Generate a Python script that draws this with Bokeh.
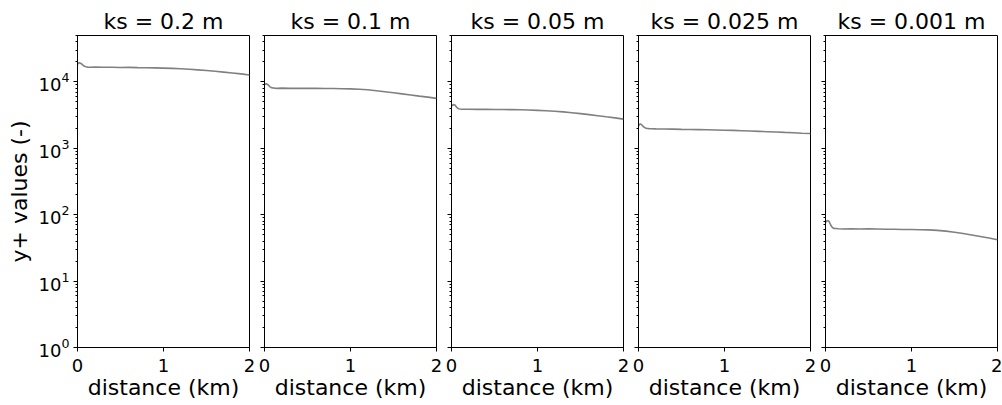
from bokeh.plotting import figure
from bokeh.layouts import row
from bokeh.models import Range1d, FixedTicker, CustomJSTickFormatter
from bokeh.embed import file_html
from bokeh.resources import INLINE

# ---- data ----
distance_km = [0.0, 0.02, 0.04, 0.06, 0.08, 0.10, 0.12, 0.15,
               0.2, 0.3, 0.4, 0.5, 0.6, 0.7, 0.8, 0.9, 1.0,
               1.1, 1.2, 1.3, 1.4, 1.5, 1.6, 1.7, 1.8, 1.9, 2.0]

titles = ["ks = 0.2 m", "ks = 0.1 m", "ks = 0.05 m", "ks = 0.025 m", "ks = 0.001 m"]

yplus_ks_0200 = [18500, 19500, 19000, 18000, 17200, 16900, 16700, 16600,
                 16700, 16600, 16650, 16500, 16550, 16400, 16350, 16250, 16150,
                 16000, 15800, 15500, 15200, 14850, 14450, 14050, 13650, 13200, 12700]
yplus_ks_0100 = [9000, 9400, 9100, 8500, 8200, 8100, 8050, 8000,
                 8050, 8000, 8020, 7980, 8000, 7950, 7950, 7900, 7850,
                 7750, 7600, 7350, 7100, 6850, 6600, 6350, 6100, 5900, 5650]
yplus_ks_0050 = [4300, 4550, 4500, 4150, 3950, 3900, 3880, 3870,
                 3880, 3860, 3870, 3850, 3840, 3820, 3800, 3770, 3730,
                 3680, 3620, 3540, 3440, 3330, 3220, 3100, 2980, 2870, 2750]
yplus_ks_0025 = [2200, 2330, 2250, 2100, 2020, 1990, 1980, 1970,
                 1960, 1950, 1945, 1930, 1920, 1910, 1900, 1885, 1870,
                 1860, 1840, 1820, 1800, 1780, 1760, 1735, 1715, 1690, 1670]
yplus_ks_0001 = [76, 82, 80, 70, 64, 62, 62, 61.5,
                 61, 61.5, 61, 61.5, 61, 60.5, 60.5, 60, 60,
                 59.5, 59, 58, 56.5, 54.5, 52, 49.5, 47, 44.5, 42]

series = [yplus_ks_0200, yplus_ks_0100, yplus_ks_0050, yplus_ks_0025, yplus_ks_0001]

x_ticks = [0, 1, 2]
y_major_ticks = [1, 10, 100, 1000, 10000]
y_minor_ticks = [m * t for t in y_major_ticks for m in range(2, 10) if m * t <= 50000]

FONT = "DejaVu Sans"
LINE_COLOR = "#808080"

left_borders = [77, 7, 7, 7, 7]
right_borders = [8, 8, 8, 8, 5]

figs = []
for i, (title, ys) in enumerate(zip(titles, series)):
    p = figure(
        title=title,
        y_axis_type="log",
        x_range=Range1d(0, 2),
        y_range=Range1d(1, 5e4),
        frame_width=172,
        frame_height=312,
        min_border_left=left_borders[i],
        min_border_right=right_borders[i],
        min_border_top=35,
        min_border_bottom=58,
        output_backend="svg",
        toolbar_location=None,
    )
    p.line(distance_km, ys, line_color=LINE_COLOR, line_width=1.6)

    p.title.text_font = FONT
    p.title.text_font_size = "22px"
    p.title.text_font_style = "normal"
    p.title.text_color = "black"
    p.title.align = "center"
    p.title.standoff = 4

    p.xgrid.visible = False
    p.ygrid.visible = False
    p.outline_line_color = "black"
    p.outline_line_width = 1
    p.background_fill_color = "white"
    p.border_fill_color = "white"

    # x axis
    p.xaxis.ticker = FixedTicker(ticks=x_ticks)
    p.xaxis.axis_label = "distance (km)"
    p.xaxis.axis_label_text_font = FONT
    p.xaxis.axis_label_text_font_size = "22px"
    p.xaxis.axis_label_text_font_style = "normal"
    p.xaxis.axis_label_text_color = "black"
    p.xaxis.axis_label_standoff = 0
    p.xaxis.major_label_text_font = FONT
    p.xaxis.major_label_text_font_size = "18px"
    p.xaxis.major_label_text_color = "black"
    p.xaxis.major_label_standoff = 7
    p.xaxis.major_tick_in = 0
    p.xaxis.major_tick_out = 4
    p.xaxis.minor_tick_line_color = None
    p.xaxis.axis_line_color = "black"
    p.xaxis.major_tick_line_color = "black"

    # y axis
    p.yaxis.ticker = FixedTicker(ticks=y_major_ticks, minor_ticks=y_minor_ticks)
    p.yaxis.major_tick_in = 0
    p.yaxis.major_tick_out = 4
    p.yaxis.minor_tick_in = 0
    p.yaxis.minor_tick_out = 2
    p.yaxis.axis_line_color = "black"
    p.yaxis.major_tick_line_color = "black"
    p.yaxis.minor_tick_line_color = "black"
    if i == 0:
        p.yaxis.axis_label = "y+ values (-)"
        p.yaxis.axis_label_text_font = FONT
        p.yaxis.axis_label_text_font_size = "22px"
        p.yaxis.axis_label_text_font_style = "normal"
        p.yaxis.axis_label_text_color = "black"
        p.yaxis.axis_label_standoff = 4
        p.yaxis.major_label_text_font = FONT
        p.yaxis.major_label_text_font_size = "18px"
        p.yaxis.major_label_text_color = "black"
        p.yaxis.major_label_standoff = 4
    else:
        p.yaxis.formatter = CustomJSTickFormatter(code="return ' '")
        p.yaxis.major_label_text_font_size = "2px"
        p.yaxis.major_label_text_alpha = 0
        p.yaxis.major_label_standoff = 0
    figs.append(p)

layout = row(*figs, spacing=0)

open("out.html", "w").write(file_html(layout, INLINE))
